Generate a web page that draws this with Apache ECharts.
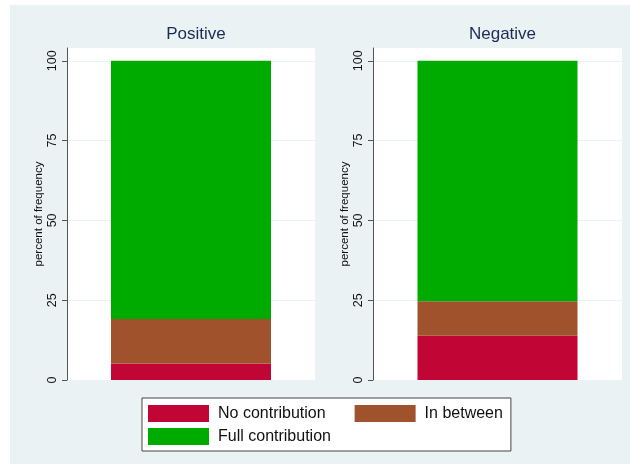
<!DOCTYPE html>
<html>
<head>
<meta charset="utf-8">
<script src="https://cdn.jsdelivr.net/npm/echarts@6/dist/echarts.min.js"></script>
<style>
  html, body { margin: 0; padding: 0; background: #fff; }
  #main { position: absolute; left: 10px; top: 5px; width: 620px; height: 459px; }
</style>
</head>
<body>
<div id="main"></div>
<script>
var panels = ['Positive', 'Negative']
var noContribution = [5.2, 13.9]
var inBetween = [13.9, 10.8]
var fullContribution = [80.9, 75.3]
var yTicks = [0, 25, 50, 75, 100]

var font = '"Liberation Sans", Arial, sans-serif'
var colors = ['#c10534', '#a0522d', '#00ab00']

var chart = echarts.init(document.getElementById('main'))

var grids = [
  { left: 57, top: 43, width: 248, height: 332 },
  { left: 363, top: 43, width: 249, height: 332 }
]
var titleX = [181, 487.5]

var option = {
  backgroundColor: '#eaf2f3',
  animation: false,
  title: [],
  grid: [],
  xAxis: [],
  yAxis: [],
  series: [],
  legend: [
    {
      data: ['No contribution', 'In between'],
      left: 132,
      top: 393,
      orient: 'horizontal',
      icon: 'rect',
      itemWidth: 61,
      itemHeight: 17,
      itemGap: 29,
      selectedMode: false,
      padding: [7, 8, 29, 6],
      backgroundColor: '#fff',
      borderColor: '#444',
      borderWidth: 1,
      textStyle: { fontFamily: font, fontSize: 16, color: '#111', padding: [0, 0, 0, 4] }
    },
    {
      data: ['Full contribution'],
      left: 138,
      top: 423,
      icon: 'rect',
      itemWidth: 61,
      itemHeight: 17,
      selectedMode: false,
      padding: 0,
      textStyle: { fontFamily: font, fontSize: 16, color: '#111', padding: [0, 0, 0, 4] }
    }
  ]
}

for (var i = 0; i < panels.length; i++) {
  option.title.push({
    text: panels[i],
    left: titleX[i],
    top: 16,
    textAlign: 'center',
    textStyle: { fontFamily: font, fontSize: 17, fontWeight: 'normal', color: '#1a2b55' }
  })
  option.grid.push({
    left: grids[i].left, top: grids[i].top, width: grids[i].width, height: grids[i].height,
    show: true, backgroundColor: '#fff', borderWidth: 0
  })
  option.xAxis.push({
    type: 'category',
    gridIndex: i,
    data: [panels[i]],
    show: false
  })
  option.yAxis.push({
    type: 'value',
    gridIndex: i,
    min: 0,
    max: 104,
    interval: 25,
    name: 'percent of frequency',
    nameLocation: 'middle',
    nameRotate: 90,
    nameGap: 22,
    nameMoveOverlap: false,
    nameTextStyle: { fontFamily: font, fontSize: 11.5, color: '#111' },
    axisLine: { show: true, lineStyle: { color: '#555', width: 1 } },
    axisTick: { show: true, length: 5, lineStyle: { color: '#555' }, customValues: yTicks },
    axisLabel: {
      rotate: 90,
      margin: 8,
      fontFamily: font,
      fontSize: 12.5,
      color: '#111',
      customValues: yTicks
    },
    splitLine: { show: true, lineStyle: { color: '#eaf2f3', width: 1 } }
  })
  var stack = 's' + i
  option.series.push(
    { name: 'No contribution', type: 'bar', stack: stack, xAxisIndex: i, yAxisIndex: i,
      barWidth: 160, itemStyle: { color: colors[0] }, data: [noContribution[i]] },
    { name: 'In between', type: 'bar', stack: stack, xAxisIndex: i, yAxisIndex: i,
      barWidth: 160, itemStyle: { color: colors[1] }, data: [inBetween[i]] },
    { name: 'Full contribution', type: 'bar', stack: stack, xAxisIndex: i, yAxisIndex: i,
      barWidth: 160, itemStyle: { color: colors[2] }, data: [fullContribution[i]] }
  )
}

chart.setOption(option)
</script>
</body>
</html>
